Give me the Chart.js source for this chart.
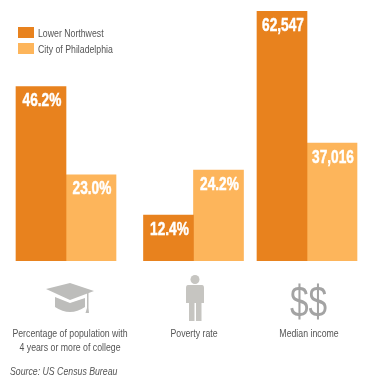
<!DOCTYPE html>
<html lang="en">
<head>
    <meta charset="UTF-8">
    <title>Lower Northwest vs City of Philadelphia</title>
    <style>
        html, body { margin: 0; padding: 0; background: #fff; }
        #wrap { position: relative; width: 371px; height: 384px; overflow: hidden; font-family: "Liberation Sans", sans-serif; color: #555; }
        #chart { position: absolute; left: 0; top: 11px; }
        .swatch { position: absolute; left: 18px; width: 16px; height: 11px; }
        /* no condensed face installed, so the text is squeezed horizontally */
        .txt { position: absolute; font-size: 11.5px; line-height: 14px; white-space: nowrap; transform: scaleX(0.76); transform-origin: left center; }
        .icon { position: absolute; }
    </style>
</head>
<body>
<div id="wrap">
    <canvas id="chart" width="371" height="373"></canvas>

    <div class="swatch" style="top:27px;background:#E8821E"></div>
    <div class="txt" id="legend0" style="left:38px;top:26px"></div>
    <div class="swatch" style="top:43px;background:#FDB55B"></div>
    <div class="txt" id="legend1" style="left:38px;top:42px"></div>

    <!-- mortarboard -->
    <svg class="icon" style="left:44px;top:282px" width="52" height="34" viewBox="0 0 52 34">
        <polygon points="2,7 26,1 50,9 26,18" fill="#bdbdbb"/>
        <path d="M11,14 L26,20 L41,15 L41,24 Q26,34 11,24 Z" fill="#bdbdbb" transform="translate(0,1)"/>
        <path d="M43,11 L43,26 L41.5,31 L45,31 L44.5,26 L44.5,11 Z" fill="#bdbdbb"/>
    </svg>
    <!-- person -->
    <svg class="icon" style="left:185px;top:274px" width="20" height="50" viewBox="0 0 20 50">
        <circle cx="10" cy="5.5" r="4.5" fill="#c6c5c1"/>
        <path d="M3,11 H17 Q19,11 19,14 V29 H16.5 V47 H11 V29 H9.5 V47 H4 V29 H1 V14 Q1,11 3,11 Z" fill="#c6c5c1"/>
    </svg>
    <div class="txt" style="left:290px;top:277px;font-size:44px;line-height:50px;color:#a3a3a3">$$</div>

    <div class="txt" id="source" style="left:10px;top:364px;font-style:italic"></div>
</div>

<script src="https://cdn.jsdelivr.net/npm/chart.js"></script>
<script>
    const categories = [
        ['Percentage of population with', '4 years or more of college'],
        ['Poverty rate'],
        ['Median income']
    ];
    const seriesNames = ['Lower Northwest', 'City of Philadelphia'];
    const lowerNorthwestRates = [46.2, 12.4, null];
    const philadelphiaRates = [23.0, 24.2, null];
    const lowerNorthwestIncome = [null, null, 62547];
    const philadelphiaIncome = [null, null, 37016];
    const sourceNote = 'Source: US Census Bureau';

    // groups are not evenly spaced in the original, so x is a linear scale
    const groupCentres = [66, 193.5, 307];
    const captionCentres = [70, 194, 309];

    const DARK = '#E8821E';
    const LIGHT = '#FDB55B';

    document.getElementById('legend0').textContent = seriesNames[0];
    document.getElementById('legend1').textContent = seriesNames[1];
    document.getElementById('source').textContent = sourceNote;

    function toPoints(values) {
        return values.map((v, i) => ({ x: groupCentres[i], y: v }));
    }

    function makeDataset(label, values, color, stack, axis) {
        return {
            label: label,
            data: toPoints(values),
            backgroundColor: color,
            borderWidth: 0,
            stack: stack,
            yAxisID: axis,
            barThickness: 50
        };
    }

    function squeezedText(ctx, text, x, y, squeeze, heavy) {
        ctx.save();
        ctx.translate(x, y);
        ctx.scale(squeeze, 1);
        if (heavy) ctx.strokeText(text, 0, 0);
        ctx.fillText(text, 0, 0);
        ctx.restore();
    }

    // white values inside the bars, captions under the axis
    const textLabels = {
        id: 'textLabels',
        afterDatasetsDraw(chart) {
            const ctx = chart.ctx;
            ctx.save();
            ctx.textAlign = 'center';
            ctx.textBaseline = 'middle';

            ctx.fillStyle = '#fff';
            ctx.strokeStyle = '#fff';
            ctx.lineWidth = 0.5;
            ctx.font = 'bold 19px "Liberation Sans", sans-serif';
            chart.data.datasets.forEach((ds, d) => {
                chart.getDatasetMeta(d).data.forEach((bar, i) => {
                    const v = ds.data[i].y;
                    if (v === null) return;
                    const text = ds.yAxisID === 'rate' ? v.toFixed(1) + '%' : v.toLocaleString('en-US');
                    squeezedText(ctx, text, bar.x + 1, bar.y + 14.5, 0.72, true);
                });
            });

            ctx.fillStyle = '#555';
            ctx.font = '11.5px "Liberation Sans", sans-serif';
            const bottom = chart.scales.x.top;
            categories.forEach((lines, i) => {
                lines.forEach((line, n) => {
                    squeezedText(ctx, line, chart.scales.x.getPixelForValue(captionCentres[i]), bottom + 73 + n * 14, 0.76, false);
                });
            });
            ctx.restore();
        }
    };

    new Chart(document.getElementById('chart'), {
        type: 'bar',
        data: {
            datasets: [
                makeDataset(seriesNames[0], lowerNorthwestRates, DARK, 'lower', 'rate'),
                makeDataset(seriesNames[1], philadelphiaRates, LIGHT, 'city', 'rate'),
                makeDataset(seriesNames[0], lowerNorthwestIncome, DARK, 'lower', 'income'),
                makeDataset(seriesNames[1], philadelphiaIncome, LIGHT, 'city', 'income')
            ]
        },
        options: {
            responsive: false,
            animation: false,
            layout: { autoPadding: false, padding: 0 },
            plugins: { legend: { display: false }, tooltip: { enabled: false } },
            scales: {
                x: {
                    type: 'linear',
                    offset: false,
                    min: 0,
                    max: 371,
                    grid: { display: false },
                    border: { display: false },
                    ticks: { display: false },
                    afterFit(scale) {
                        scale.height = 123;
                    }
                },
                rate: { type: 'linear', display: false, min: 0.3, max: 66.1 },
                // the original income bars do not start from zero
                income: { type: 'linear', display: false, min: 14193, max: 62547 }
            }
        },
        plugins: [textLabels]
    });
</script>
</body>
</html>
